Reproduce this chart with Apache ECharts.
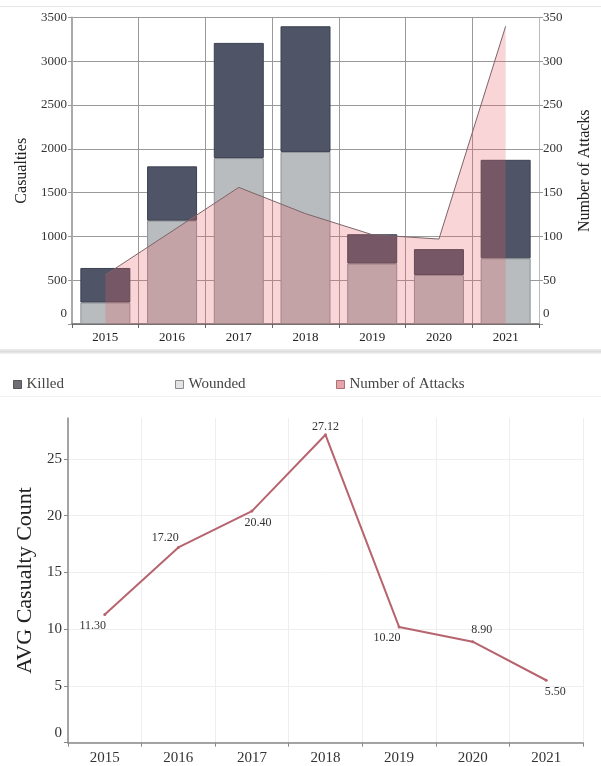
<!DOCTYPE html>
<html>
<head>
<meta charset="utf-8">
<script src="https://cdn.jsdelivr.net/npm/echarts@6/dist/echarts.min.js"></script>
<style>
html,body{margin:0;padding:0;background:#fff;}
#c{width:601px;height:766px;}
</style>
</head>
<body>
<div id="c"></div>
<script>
// ---- data ----
const years = ['2015', '2016', '2017', '2018', '2019', '2020', '2021'];
const killed = [395, 620, 1315, 1435, 335, 295, 1125];
const wounded = [245, 1180, 1895, 1965, 690, 560, 750];
const attacks = [56, 106, 156, 126, 102, 97, 340];
const avgCasualty = [11.30, 17.20, 20.40, 27.12, 10.20, 8.90, 5.50];
const casualtyTicks = { min: 0, max: 3500, interval: 500 };
const attackTicks = { min: 0, max: 350, interval: 50 };
const avgTicks = { min: 0, max: 28.6, interval: 5 };

// ---- styling ----
const FONT = '"Liberation Serif", "DejaVu Serif", serif';
const labelOffsets = [[-12, 11], [-13, -10], [6, 12], [0, -8], [-12, 11], [9, -12], [9, 12]];
const zeroUp = v => (v === 0 ? '{z|0}' : String(v));
const zeroRich = { z: { padding: [0, 0, 21, 0], fontFamily: FONT, fontSize: 13, color: '#333' } };

const legendItems = [
  { name: 'Killed', left: 8, itemStyle: { color: '#6d6f74', borderColor: '#555', borderWidth: 1 } },
  { name: 'Wounded', left: 170, itemStyle: { color: '#e2e3e4', borderColor: '#8a8c8f', borderWidth: 1 } },
  { name: 'Number of Attacks', left: 331, itemStyle: { color: '#e4a5aa', borderColor: '#b06e76', borderWidth: 1 } }
];

const chart = echarts.init(document.getElementById('c'), null, { renderer: 'canvas' });

const option = {
  backgroundColor: '#fff',
  animation: false,
  textStyle: { fontFamily: FONT },
  graphic: [
    { type: 'rect', shape: { x: 0, y: 6, width: 601, height: 1 }, style: { fill: '#e6e6e6' }, silent: true },
    { type: 'rect', shape: { x: 0, y: 349, width: 601, height: 5 }, style: { fill: new echarts.graphic.LinearGradient(0, 0, 0, 1, [{ offset: 0, color: '#eeeeee' }, { offset: 0.5, color: '#dcdcdc' }, { offset: 1, color: '#f4f4f4' }]) }, silent: true },
    { type: 'rect', shape: { x: 0, y: 396, width: 601, height: 1 }, style: { fill: '#f0f0f0' }, silent: true }
  ],
  legend: legendItems.map(it => ({
    left: it.left,
    top: 372,
    itemWidth: 8,
    itemHeight: 8,
    icon: 'rect',
    textStyle: { fontFamily: FONT, fontSize: 15, color: '#444' },
    data: [{ name: it.name, itemStyle: it.itemStyle }]
  })),
  grid: [
    { left: 72, right: 53, top: 17.5, height: 306.5 },
    { left: 68, right: 18, top: 418, height: 324.7 }
  ],
  xAxis: [
    {
      type: 'category', gridIndex: 0, data: years, boundaryGap: true,
      axisLine: { lineStyle: { color: '#666', width: 1.5 } },
      axisTick: { show: true, length: 4, lineStyle: { color: '#666' } },
      axisLabel: { fontFamily: FONT, fontSize: 13, color: '#222', margin: 7 },
      splitLine: { show: true, lineStyle: { color: '#9a9a9a', width: 1 } }
    },
    {
      type: 'category', gridIndex: 1, data: years, boundaryGap: true,
      axisLine: { lineStyle: { color: '#888', width: 1.5 } },
      axisTick: { show: true, length: 4, lineStyle: { color: '#888' } },
      axisLabel: { fontFamily: FONT, fontSize: 15, color: '#333', margin: 8 },
      splitLine: { show: true, lineStyle: { color: '#eeeeee', width: 1 } }
    }
  ],
  yAxis: [
    {
      type: 'value', gridIndex: 0, position: 'left',
      min: casualtyTicks.min, max: casualtyTicks.max, interval: casualtyTicks.interval,
      name: 'Casualties', nameLocation: 'middle', nameGap: 37,
      nameTextStyle: { fontFamily: FONT, fontSize: 16, color: '#222' },
      axisLine: { show: true, lineStyle: { color: '#aaa', width: 2 } },
      axisTick: { show: true, length: 4, lineStyle: { color: '#999' } },
      axisLabel: { fontFamily: FONT, fontSize: 13, color: '#333', margin: 5, formatter: zeroUp, rich: zeroRich },
      splitLine: { show: true, lineStyle: { color: '#9a9a9a', width: 1 } }
    },
    {
      type: 'value', gridIndex: 0, position: 'right',
      min: attackTicks.min, max: attackTicks.max, interval: attackTicks.interval,
      name: 'Number of Attacks', nameLocation: 'middle', nameGap: 38,
      nameTextStyle: { fontFamily: FONT, fontSize: 16, color: '#222' },
      axisLine: { show: true, lineStyle: { color: '#bbb', width: 1 } },
      axisTick: { show: true, length: 4, lineStyle: { color: '#999' } },
      axisLabel: { fontFamily: FONT, fontSize: 13, color: '#333', margin: 4, formatter: zeroUp, rich: zeroRich },
      splitLine: { show: false }
    },
    {
      type: 'value', gridIndex: 1,
      min: avgTicks.min, max: avgTicks.max, interval: avgTicks.interval,
      name: 'AVG Casualty Count', nameLocation: 'middle', nameGap: 25,
      nameTextStyle: { fontFamily: FONT, fontSize: 22, color: '#222' },
      axisLine: { show: true, lineStyle: { color: '#888', width: 1.5 } },
      axisTick: { show: true, length: 4, lineStyle: { color: '#888' } },
      axisLabel: { fontFamily: FONT, fontSize: 15, color: '#333', margin: 6, showMaxLabel: false,
        formatter: v => (v === 0 ? '{z|0}' : String(v)),
        rich: { z: { padding: [0, 0, 20, 0], fontFamily: FONT, fontSize: 15, color: '#333' } } },
      splitLine: { show: true, showMaxLine: false, lineStyle: { color: '#eeeeee', width: 1 } }
    }
  ],
  series: [
    {
      name: 'Wounded', type: 'bar', stack: 'cas', xAxisIndex: 0, yAxisIndex: 0,
      barWidth: 50, data: wounded,
      itemStyle: { color: '#b8bcbf', borderColor: '#8e9296', borderWidth: 1 }
    },
    {
      name: 'Killed', type: 'bar', stack: 'cas', xAxisIndex: 0, yAxisIndex: 0,
      barWidth: 50, data: killed,
      itemStyle: { color: '#4f5566', borderColor: '#3c4150', borderWidth: 1 }
    },
    {
      name: 'Number of Attacks', type: 'line', xAxisIndex: 0, yAxisIndex: 1,
      data: attacks, showSymbol: false, symbol: 'none', z: 5,
      lineStyle: { color: '#7d6469', width: 1 },
      itemStyle: { color: '#e4a5aa' },
      areaStyle: { color: 'rgba(232,92,102,0.37)', origin: 'start' }
    },
    {
      name: 'AVG Casualty', type: 'line', xAxisIndex: 1, yAxisIndex: 2,
      data: avgCasualty.map((v, i) => ({
        value: v,
        label: { offset: labelOffsets[i] }
      })),
      symbol: 'circle', symbolSize: 3, showSymbol: true,
      lineStyle: { color: '#b7646e', width: 2 },
      itemStyle: { color: '#b7646e' },
      label: {
        show: true, position: 'inside', fontFamily: FONT, fontSize: 12, color: '#333',
        formatter: p => p.value.toFixed(2)
      }
    }
  ]
};
chart.setOption(option);
</script>
</body>
</html>
